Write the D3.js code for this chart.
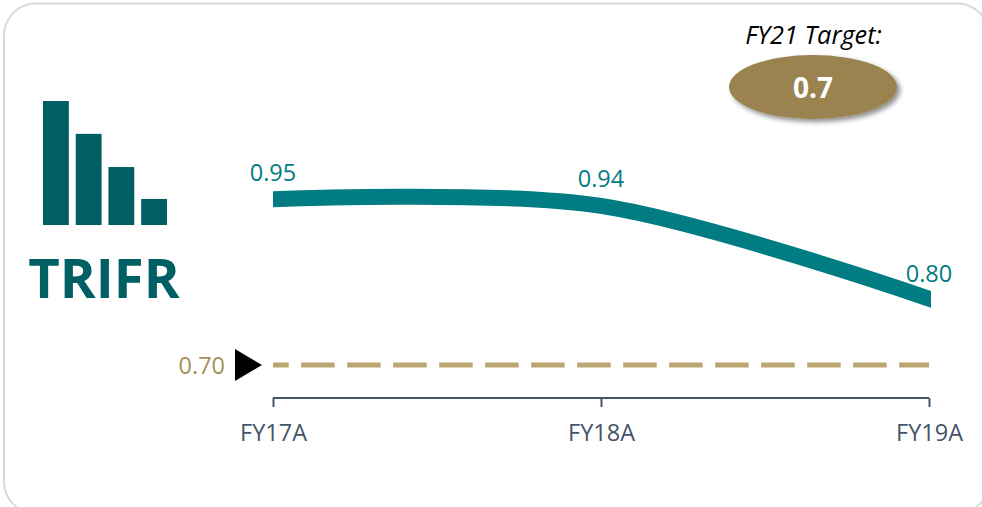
<!DOCTYPE html>
<html><head><meta charset="utf-8">
<script src="https://cdn.jsdelivr.net/npm/d3@7"></script>
<style>html,body{margin:0;padding:0;background:#fff;overflow:hidden}svg{display:block}text{font-family:"Open Sans",Lato,sans-serif}</style>
</head><body><svg id="c" width="982" height="507"></svg>
<script>
const categories = ["FY17A","FY18A","FY19A"];
const values = [0.95,0.94,0.80];
const valueLabels = ["0.95","0.94","0.80"];
const target = 0.70;
const targetLabel = "0.70";
const iconValues = [4,2.94,1.87,0.84];
const iconKeys = ["a","b","c","d"];
const title = "TRIFR";
const targetTitle = "FY21 Target:";
const targetBadge = "0.7";

const teal="#007C82", dark="#005F63", gold="#BBA673", goldDark="#9A8350", slate="#44546A";
const svg=d3.select("#c");
const defs=svg.append("defs");
const f=defs.append("filter").attr("id","sh").attr("x","-20%").attr("y","-30%").attr("width","150%").attr("height","170%");
f.append("feDropShadow").attr("dx",3).attr("dy",3).attr("stdDeviation",2.5).attr("flood-color","#000").attr("flood-opacity",0.45);
defs.append("clipPath").attr("id","plot").append("rect").attr("x",273).attr("y",100).attr("width",658).attr("height",300);

svg.append("rect").attr("x",4).attr("y",3.5).attr("width",985).attr("height",510).attr("rx",32)
  .attr("fill","#fff").attr("stroke","#d9d9d9").attr("stroke-width",2);

const x=d3.scalePoint().domain(categories).range([273,929]);
const y=d3.scaleLinear().domain([0.70,0.95]).range([365,199.3]);

// icon
const ix=d3.scaleBand().domain(iconKeys).range([43,167]).paddingInner(0.21);
const iy=d3.scaleLinear().domain([0,4]).range([225,101]);
svg.append("g").selectAll("rect").data(iconValues).join("rect")
  .attr("x",(d,i)=>ix(iconKeys[i])).attr("width",ix.bandwidth())
  .attr("y",d=>iy(d)).attr("height",d=>iy(0)-iy(d)).attr("fill",dark);
svg.append("text").attr("x",104).attr("y",298).attr("text-anchor","middle")
  .attr("font-size",54.5).attr("font-weight",700).attr("fill",dark).text(title);

// target line
svg.append("line").attr("x1",x(categories[0])).attr("x2",x(categories[2]))
  .attr("y1",y(target)).attr("y2",y(target)).attr("stroke",gold).attr("stroke-width",5)
  .attr("stroke-dasharray","33.5 12.5").attr("stroke-dashoffset",17.8);
const ty=y(target);
svg.append("path").datum(target).attr("fill","#000")
  .attr("d",d=>d3.line()([[235,y(d)-16],[262,y(d)],[235,y(d)+16]])+"Z");
svg.append("text").attr("x",225).attr("y",ty+8.5).attr("text-anchor","end").attr("font-size",23.5).attr("fill","#A68F5B").text(targetLabel);

// series
const line=d3.line().x((d,i)=>x(categories[i])).y(d=>y(d)).curve(d3.curveCardinal.tension(0.05));
svg.append("path").datum(values).attr("d",line).attr("fill","none").attr("stroke",teal).attr("stroke-width",16)
  .attr("stroke-linecap","square").attr("clip-path","url(#plot)");
const labelDy=[-18,-19,-16.5];
svg.append("g").selectAll("text").data(values).join("text")
  .attr("x",(d,i)=>x(categories[i])).attr("y",(d,i)=>y(d)+labelDy[i]).attr("text-anchor","middle")
  .attr("font-size",23.5).attr("fill",teal).text((d,i)=>valueLabels[i]);

// axis
const ag=svg.append("g").attr("transform","translate(0,398)")
  .call(d3.axisBottom(x).tickSize(9).tickSizeOuter(0));
ag.selectAll("path,line").attr("stroke",slate).attr("stroke-width",2);
ag.select(".domain").attr("d",`M${x(categories[0])},0H${x(categories[2])}`);
ag.selectAll("text").attr("y",43).attr("dy",0).attr("font-size",23.5).attr("fill",slate).attr("font-family",'"Open Sans",Lato,sans-serif');

// badge
svg.append("ellipse").attr("cx",813).attr("cy",87).attr("rx",84).attr("ry",32).attr("fill",goldDark).attr("filter","url(#sh)");
svg.append("text").attr("x",813).attr("y",98).attr("text-anchor","middle").attr("font-size",28).attr("font-weight",700).attr("fill","#fff").text(targetBadge);
svg.append("text").attr("x",813.5).attr("y",44).attr("text-anchor","middle").attr("font-size",25.3).attr("font-style","italic").attr("fill","#000").text(targetTitle);
</script></body></html>
